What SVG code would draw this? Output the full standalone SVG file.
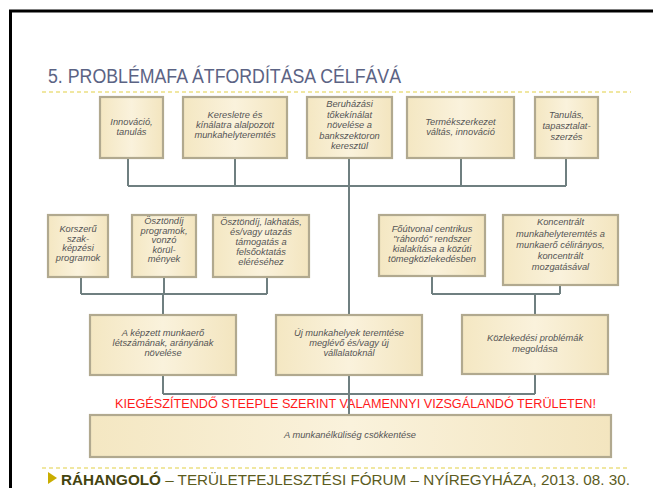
<svg xmlns="http://www.w3.org/2000/svg" width="653" height="488" viewBox="0 0 653 488">
<defs>
<linearGradient id="bg" x1="0" y1="0" x2="1" y2="0">
<stop offset="0" stop-color="#f4e7c2"/>
<stop offset="0.5" stop-color="#faf2dc"/>
<stop offset="1" stop-color="#f3e5bf"/>
</linearGradient>
<style>
.box{fill:url(#bg);stroke:#b1a98f;stroke-width:2.2}
.t{font-family:"Liberation Sans",Arial,sans-serif;font-style:italic;font-size:9.3px;fill:#555;text-anchor:middle}
.c{fill:none;stroke:#6f7f80;stroke-width:2}
.dash{stroke:#e2cf45;stroke-width:1.2;stroke-dasharray:4 3}
</style>
</defs>
<rect width="653" height="488" fill="#fff"/>
<path d="M10.5 488 V11 H653" fill="none" stroke="#000" stroke-width="3"/>
<text x="48" y="83" font-family="Liberation Sans,Arial,sans-serif" font-size="20.5" fill="#5b6384" textLength="353" lengthAdjust="spacingAndGlyphs">5. PROBLÉMAFA ÁTFORDÍTÁSA CÉLFÁVÁ</text>
<line class="dash" x1="42" y1="92" x2="631" y2="92"/>

<g id="connectors">
<path class="c" d="M128 158 V186 M235 158 V186 M461 158 V186 M566 158 V186 M128 186 H566"/>
<path class="c" d="M349 158 V315 M349 375 V415"/>
<path class="c" d="M81 277 V294 M164 277 V294 M267 277 V294 M81 294 H267 M163 294 V315"/>
<path class="c" d="M432 276 V294 M560 285 V294 M432 294 H560 M535 294 V315"/>
<path class="c" d="M163 375 V394 M535 375 V394 M163 394 H535"/>
</g>

<g id="n1"><rect class="box" x="100" y="97" width="63" height="61"/>
<text class="t"><tspan x="131.5" y="125">Innováció,</tspan><tspan x="131.5" y="135">tanulás</tspan></text></g>
<g id="n2"><rect class="box" x="183" y="97" width="104" height="61"/>
<text class="t"><tspan x="235" y="118">Keresletre és</tspan><tspan x="235" y="128">kínálatra alalpozott</tspan><tspan x="235" y="138">munkahelyteremtés</tspan></text></g>
<g id="n3"><rect class="box" x="307" y="97" width="85" height="61"/>
<text class="t"><tspan x="349.5" y="107">Beruházási</tspan><tspan x="349.5" y="117.5">tőkekínálat</tspan><tspan x="349.5" y="128">növelése a</tspan><tspan x="349.5" y="138.5">bankszektoron</tspan><tspan x="349.5" y="149">keresztül</tspan></text></g>
<g id="n4"><rect class="box" x="407" y="97" width="107" height="61"/>
<text class="t"><tspan x="460.5" y="125">Termékszerkezet</tspan><tspan x="460.5" y="135">váltás, innováció</tspan></text></g>
<g id="n5"><rect class="box" x="535" y="97" width="63" height="61"/>
<text class="t"><tspan x="566.5" y="118">Tanulás,</tspan><tspan x="566.5" y="128.5">tapasztalat-</tspan><tspan x="566.5" y="139.5">szerzés</tspan></text></g>

<g id="n6"><rect class="box" x="48" y="215" width="60" height="62"/>
<text class="t"><tspan x="78" y="232">Korszerű</tspan><tspan x="78" y="241.7">szak-</tspan><tspan x="78" y="251.4">képzési</tspan><tspan x="78" y="261">programok</tspan></text></g>
<g id="n7"><rect class="box" x="132" y="215" width="64" height="62"/>
<text class="t"><tspan x="164" y="224">Ösztöndíj</tspan><tspan x="164" y="233.5">programok,</tspan><tspan x="164" y="243">vonzó</tspan><tspan x="164" y="252.5">körül-</tspan><tspan x="164" y="262">mények</tspan></text></g>
<g id="n8"><rect class="box" x="213" y="215" width="96" height="62"/>
<text class="t"><tspan x="261" y="225">Ösztöndíj, lakhatás,</tspan><tspan x="261" y="235">és/vagy utazás</tspan><tspan x="261" y="245">támogatás a</tspan><tspan x="261" y="255">felsőoktatás</tspan><tspan x="261" y="265">eléréséhez</tspan></text></g>
<g id="n9"><rect class="box" x="379" y="215" width="106" height="61"/>
<text class="t"><tspan x="432" y="232">Főútvonal centrikus</tspan><tspan x="432" y="242">"ráhordó" rendszer</tspan><tspan x="432" y="252">kialakítása a közúti</tspan><tspan x="432" y="262">tömegközlekedésben</tspan></text></g>
<g id="n10"><rect class="box" x="503" y="215" width="115" height="70"/>
<text class="t"><tspan x="560.5" y="225">Koncentrált</tspan><tspan x="560.5" y="236.5">munkahelyteremtés a</tspan><tspan x="560.5" y="248">munkaerő célirányos,</tspan><tspan x="560.5" y="259">koncentrált</tspan><tspan x="560.5" y="270">mozgatásával</tspan></text></g>

<g id="n11"><rect class="box" x="90" y="315" width="146" height="60"/>
<text class="t"><tspan x="163" y="336">A képzett munkaerő</tspan><tspan x="163" y="346">létszámának, arányának</tspan><tspan x="163" y="356">növelése</tspan></text></g>
<g id="n12"><rect class="box" x="276" y="315" width="146" height="60"/>
<text class="t"><tspan x="349" y="336">Új munkahelyek teremtése</tspan><tspan x="349" y="346">meglévő és/vagy új</tspan><tspan x="349" y="356">vállalatoknál</tspan></text></g>
<g id="n13"><rect class="box" x="462" y="315" width="146" height="59"/>
<text class="t"><tspan x="535" y="341">Közlekedési problémák</tspan><tspan x="535" y="352">megoldása</tspan></text></g>

<text x="115" y="408" font-family="Liberation Sans,Arial,sans-serif" font-size="12.5" fill="#ff1a1a" textLength="481" lengthAdjust="spacingAndGlyphs">KIEGÉSZÍTENDŐ STEEPLE SZERINT VALAMENNYI VIZSGÁLANDÓ TERÜLETEN!</text>
<line x1="349" y1="394" x2="349" y2="415" stroke="#6f7f80" stroke-width="2"/>

<g id="n14"><rect class="box" x="90" y="415" width="521" height="42"/>
<text class="t" x="350" y="438">A munkanélküliség csökkentése</text></g>

<line class="dash" x1="42" y1="468" x2="630" y2="468"/>
<path d="M48 472 L57 478 L48 484 Z" fill="#c9ad00"/>
<text x="61" y="484.5" font-family="Liberation Sans,Arial,sans-serif" font-size="15" fill="#5c5c1e" textLength="569" lengthAdjust="spacingAndGlyphs"><tspan font-weight="bold" fill="#44440f">RÁHANGOLÓ</tspan> – TERÜLETFEJLESZTÉSI FÓRUM – NYÍREGYHÁZA, 2013. 08. 30.</text>
</svg>
